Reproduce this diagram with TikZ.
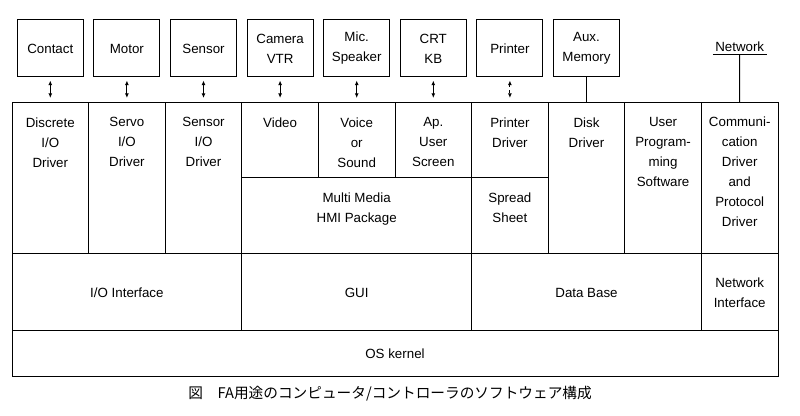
\documentclass[tikz,border=0pt]{standalone}
\usepackage{fontspec}
\setmainfont{Liberation Sans}
\newfontfamily\jpfont{Noto Sans CJK JP}
\usetikzlibrary{arrows.meta}

\tikzset{
  device/.style={draw, minimum width=49.5pt, minimum height=42.75pt, align=center, inner sep=1pt},
  celltext/.style={anchor=north, align=center, inner sep=0pt},
  layertext/.style={align=center, inner sep=0pt},
  link/.style={{Latex[length=3.5pt,width=3pt]}-{Latex[length=3.5pt,width=3pt]}, shorten <=2.25pt, shorten >=3.75pt},
}

\begin{document}
\begin{tikzpicture}[x=0.75pt,y=-0.75pt,line width=0.75pt,
  every node/.style={font=\fontsize{10}{15}\selectfont}]
\useasboundingbox (0,0) rectangle (800,416);

% devices on top
\foreach \n/\t [count=\i] in {contact/Contact, motor/Motor, sensor/Sensor,
    camera/{Camera\\VTR}, mic/{Mic.\\Speaker}, crt/{CRT\\KB},
    printer/Printer, aux/{Aux.\\Memory}}
  \node[device] (\n) at ({76.6*\i-26.3},48.5) {\t};

\foreach \i in {1,...,10}
  \coordinate (top\i) at ({76.6*\i-26.3},103);

\node[inner sep=1.5pt] (network) at (739.7,47) {Network};

% connections to the software blocks
\foreach \n [count=\i] in {contact,motor,sensor,camera,mic,crt}
  \draw[link] (\n.south) -- (top\i);
\draw[link, dash pattern=on 2pt off 2pt] (printer.south) -- (top7);
\draw (aux.south) -- (top8);
\draw (network.south west) -- (network.south east);
\draw (network.south) -- (top10);

% drivers and applications
\draw (12,103) rectangle (88.6,254);
\draw (88.6,103) rectangle (165.2,254);
\draw (165.2,103) rectangle (241.8,254);
\draw (241.8,103) rectangle (318.4,178);
\draw (318.4,103) rectangle (395,178);
\draw (395,103) rectangle (471.6,178);
\draw (471.6,103) rectangle (548.2,178);
\draw (548.2,103) rectangle (624.8,254);
\draw (624.8,103) rectangle (701.4,254);
\draw (701.4,103) rectangle (778,254);
\draw (241.8,178) rectangle (471.6,254);
\draw (471.6,178) rectangle (548.2,254);

\node[celltext] (discrete) at (50.3,117) {Discrete\\I/O\\Driver};
\node[celltext] (servo) at (126.9,117) {Servo\\I/O\\Driver};
\node[celltext] (sensordrv) at (203.5,117) {Sensor\\I/O\\Driver};
\node[celltext] (video) at (280.1,117) {Video};
\node[celltext] (voice) at (356.7,117) {Voice\\or\\Sound};
\node[celltext] (apscreen) at (433.3,117) {Ap.\\User\\Screen};
\node[celltext] (prndrv) at (509.9,117) {Printer\\Driver};
\node[celltext] (disk) at (586.5,117) {Disk\\Driver};
\node[celltext] (userprog) at (663.1,117) {User\\Program-\\ming\\Software};
\node[celltext] (comm) at (739.7,116) {Communi-\\cation\\Driver\\and\\Protocol\\Driver};
\node[celltext] (hmi) at (356.7,192) {Multi Media\\HMI Package};
\node[celltext] (spread) at (509.9,192) {Spread\\Sheet};

% interfaces and kernel
\draw (12,254) rectangle (241.8,331);
\draw (241.8,254) rectangle (471.6,331);
\draw (471.6,254) rectangle (701.4,331);
\draw (701.4,254) rectangle (778,331);
\draw (12,331) rectangle (778,377);

\node[layertext] (ioif) at (126.9,292.5) {I/O Interface};
\node[layertext] (gui) at (356.7,292.5) {GUI};
\node[layertext] (database) at (586.5,292.5) {Data Base};
\node[layertext] (netif) at (739.7,292.5) {Network\\Interface};
\node[layertext] (kernel) at (395,354) {OS kernel};

\node[font=\jpfont\fontsize{11}{13}\selectfont] (caption) at (390,394)
  {図\quad FA用途のコンピュータ/コントローラのソフトウェア構成};

\end{tikzpicture}
\end{document}
